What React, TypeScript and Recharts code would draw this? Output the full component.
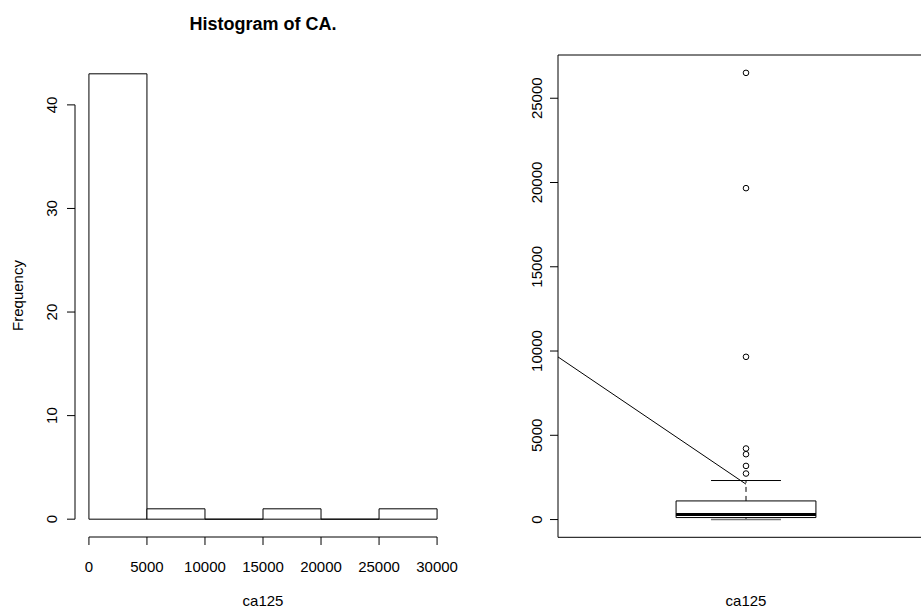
import React from 'react';
import { ComposedChart, XAxis, YAxis, ReferenceArea, ReferenceLine, Scatter } from 'recharts';

// histogram of ca125 (bin edges + counts)
const binStarts = [0, 5000, 10000, 15000, 20000, 25000];
const binEnds = [5000, 10000, 15000, 20000, 25000, 30000];
const binCounts = [43, 1, 0, 1, 0, 1];
const histXTicks = [0, 5000, 10000, 15000, 20000, 25000, 30000];
const histYTicks = [0, 10, 20, 30, 40];

// boxplot of ca125: lower whisker, Q1, median, Q3, upper whisker
const boxStats = [7, 119, 297, 1105, 2316];
const outliers = [2731, 3183, 3878, 4216, 9656, 19665, 26506];
const boxYTicks = [0, 5000, 10000, 15000, 20000, 25000];

// stray line drawn across the boxplot panel
const strayLineX = [0.5, 1];
const strayLineY = [9650, 2100];

const FONT = '"Liberation Sans", Arial, Helvetica, sans-serif';
const BOX_HALF = 0.186;
const CAP_HALF = 0.093;

// R style 4% padding of the axis range
const pad = (lo: number, hi: number): [number, number] => {
    const d = (hi - lo) * 0.04;
    return [lo - d, hi + d];
};

const histXDomain = pad(binStarts[0], binEnds[binEnds.length - 1]);
const histYDomain = pad(0, Math.max(...binCounts));
const allBoxValues = [...boxStats, ...outliers];
const boxYDomain = pad(Math.min(...allBoxValues), Math.max(...allBoxValues));

const outlierData = outliers.map(v => ({ x: 1, y: v }));

const OutlineShape = (props: any) => {
    const { x, y, width, height } = props;
    return (
        <path
            d={`M${x},${y}h${width}v${height}h${-width}Z`}
            fill="#fff"
            stroke="#000"
            strokeWidth={1}
        />
    );
};

const HistXTick = ({ x, y, payload }: any) => (
    <text x={x} y={y} dy={25} textAnchor="middle" fontFamily={FONT} fontSize={15} fill="#000">
        {payload.value}
    </text>
);

const makeYTick = (shift: number) => ({ x, y, payload }: any) => (
    <text
        transform={`translate(${x - shift}, ${y}) rotate(-90)`}
        textAnchor="middle"
        fontFamily={FONT}
        fontSize={15}
        fill="#000"
    >
        {payload.value}
    </text>
);

const HistYTick = makeYTick(8);
const BoxYTick = makeYTick(5.6);

const OpenCircle = (props: any) => {
    const { cx, cy } = props;
    return <circle cx={cx} cy={cy} r={2.8} fill="none" stroke="#000" strokeWidth={1} />;
};

const App: React.FC = () => {
    const [lowW, q1, med, q3, upW] = boxStats;
    return (
        <div style={{ position: 'absolute', left: 0, top: 0, width: 921, height: 608, overflow: 'hidden', background: '#fff' }}>
            <div style={{ position: 'absolute', left: 0, top: 0 }}>
                <ComposedChart width={481} height={608} margin={{ top: 56, right: 30, bottom: 31, left: 0 }}>
                    <XAxis
                        type="number"
                        dataKey="x"
                        domain={histXDomain}
                        ticks={histXTicks}
                        allowDataOverflow
                        height={40}
                        axisLine={false}
                        tickSize={8}
                        tickLine={{ stroke: '#000' }}
                        tick={<HistXTick />}
                        interval={0}
                    />
                    <YAxis
                        type="number"
                        domain={histYDomain}
                        ticks={histYTicks}
                        allowDataOverflow
                        width={75}
                        axisLine={false}
                        tickSize={8}
                        tickLine={{ stroke: '#000' }}
                        tick={<HistYTick />}
                        interval={0}
                    />
                    {binStarts.map((s, i) => (
                        <ReferenceArea
                            key={s}
                            x1={s}
                            x2={binEnds[i]}
                            y1={0}
                            y2={binCounts[i]}
                            ifOverflow="visible"
                            shape={OutlineShape}
                        />
                    ))}
                    <ReferenceLine
                        segment={[{ x: histXTicks[0], y: histYDomain[0] }, { x: histXTicks[histXTicks.length - 1], y: histYDomain[0] }]}
                        stroke="#000"
                        ifOverflow="visible"
                    />
                    <ReferenceLine
                        segment={[{ x: histXDomain[0], y: histYTicks[0] }, { x: histXDomain[0], y: histYTicks[histYTicks.length - 1] }]}
                        stroke="#000"
                        ifOverflow="visible"
                    />
                </ComposedChart>
            </div>

            <div style={{ position: 'absolute', left: 480, top: 0 }}>
                <ComposedChart width={454} height={608} margin={{ top: 55, right: 0, bottom: 70.7, left: 0 }}>
                    <XAxis type="number" dataKey="x" domain={[0.5, 1.5]} allowDataOverflow hide />
                    <YAxis
                        type="number"
                        dataKey="y"
                        domain={boxYDomain}
                        ticks={boxYTicks}
                        allowDataOverflow
                        width={78}
                        axisLine={false}
                        tickSize={8}
                        tickLine={{ stroke: '#000' }}
                        tick={<BoxYTick />}
                        interval={0}
                    />
                    <ReferenceArea
                        x1={0.5}
                        x2={1.5}
                        y1={boxYDomain[0]}
                        y2={boxYDomain[1]}
                        fill="none"
                        fillOpacity={0}
                        stroke="#000"
                        strokeWidth={1}
                        ifOverflow="visible"
                    />
                    <ReferenceLine
                        segment={[{ x: 1, y: q3 }, { x: 1, y: upW }]}
                        stroke="#000"
                        strokeDasharray="5 4"
                        ifOverflow="visible"
                    />
                    <ReferenceLine
                        segment={[{ x: 1, y: lowW }, { x: 1, y: q1 }]}
                        stroke="#000"
                        strokeDasharray="5 4"
                        ifOverflow="visible"
                    />
                    <ReferenceLine
                        segment={[{ x: 1 - CAP_HALF, y: upW }, { x: 1 + CAP_HALF, y: upW }]}
                        stroke="#000"
                        ifOverflow="visible"
                    />
                    <ReferenceLine
                        segment={[{ x: 1 - CAP_HALF, y: lowW }, { x: 1 + CAP_HALF, y: lowW }]}
                        stroke="#777"
                        strokeWidth={1.5}
                        ifOverflow="visible"
                    />
                    <ReferenceArea
                        x1={1 - BOX_HALF}
                        x2={1 + BOX_HALF}
                        y1={q1}
                        y2={q3}
                        ifOverflow="visible"
                        shape={OutlineShape}
                    />
                    <ReferenceLine
                        segment={[{ x: 1 - BOX_HALF, y: med }, { x: 1 + BOX_HALF, y: med }]}
                        stroke="#000"
                        strokeWidth={3}
                        ifOverflow="visible"
                    />
                    <ReferenceLine
                        segment={[{ x: strayLineX[0], y: strayLineY[0] }, { x: strayLineX[1], y: strayLineY[1] }]}
                        stroke="#000"
                        strokeWidth={1}
                        ifOverflow="visible"
                    />
                    <Scatter data={outlierData} dataKey="y" shape={OpenCircle} isAnimationActive={false} />
                </ComposedChart>
            </div>

            <svg width={921} height={608} style={{ position: 'absolute', left: 0, top: 0, pointerEvents: 'none' }}>
                <text x={263} y={29.5} textAnchor="middle" fontFamily={FONT} fontSize={18} fontWeight="bold" fill="#000">
                    Histogram of CA.
                </text>
                <text x={263} y={606} textAnchor="middle" fontFamily={FONT} fontSize={15} fill="#000">
                    ca125
                </text>
                <text x={746} y={606} textAnchor="middle" fontFamily={FONT} fontSize={15} fill="#000">
                    ca125
                </text>
                <text transform="translate(23, 295.5) rotate(-90)" textAnchor="middle" fontFamily={FONT} fontSize={15} fill="#000">
                    Frequency
                </text>
            </svg>
        </div>
    );
};

export default App;
